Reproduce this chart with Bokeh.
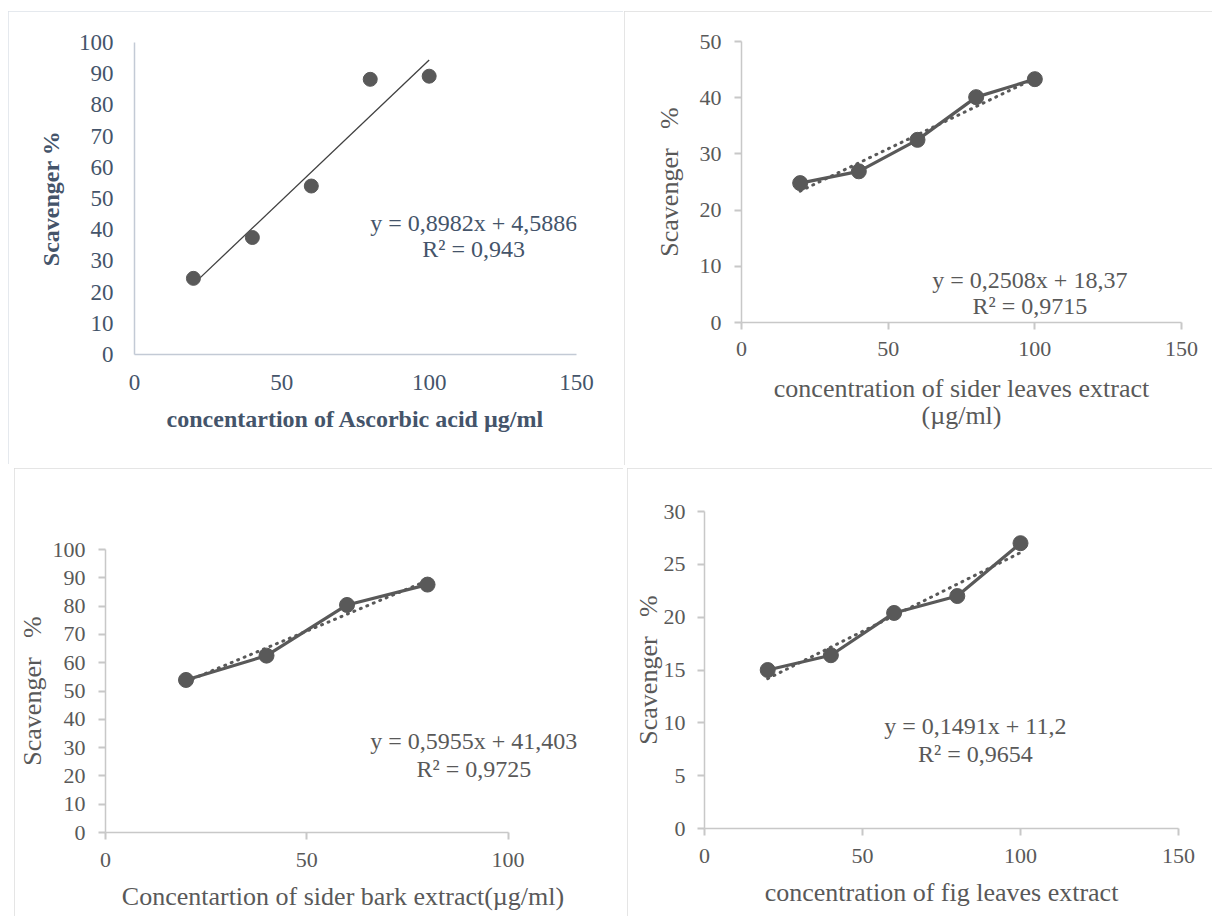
from bokeh.plotting import figure
from bokeh.layouts import column, row
from bokeh.models import Range1d, FixedTicker, Label
from bokeh.embed import file_html
from bokeh.resources import INLINE

# ---------------- data ----------------
conc = [20, 40, 60, 80, 100]
ascorbic = [24.4, 37.5, 54.0, 88.2, 89.2]
sider_leaves = [24.8, 26.9, 32.5, 40.1, 43.3]
bark_conc = [20, 40, 60, 80]
sider_bark = [53.9, 62.5, 80.4, 87.6]
fig_leaves = [15.0, 16.4, 20.4, 22.0, 27.0]

# trendline coefficients (slope, intercept) as printed on the chart
fit_ascorbic = (0.8982, 4.5886)
fit_sider_leaves = (0.2508, 18.37)
fit_sider_bark = (0.5955, 41.403)
fit_fig_leaves = (0.1491, 11.2)

eq_ascorbic = ["y = 0,8982x + 4,5886", "R² = 0,943"]
eq_sider_leaves = ["y = 0,2508x + 18,37", "R² = 0,9715"]
eq_sider_bark = ["y = 0,5955x + 41,403", "R² = 0,9725"]
eq_fig_leaves = ["y = 0,1491x + 11,2", "R² = 0,9654"]

xticks_150 = [0, 50, 100, 150]
xticks_100 = [0, 50, 100]
yticks_100 = [0, 10, 20, 30, 40, 50, 60, 70, 80, 90, 100]
yticks_50 = [0, 10, 20, 30, 40, 50]
yticks_30 = [0, 5, 10, 15, 20, 25, 30]

FONT = "Liberation Serif"
SLATE = "#44546A"
GREY_TXT = "#595959"
MARK = "#595959"


def make_fig(w, h, l, r, t, b, xr, yr, xt, yt, text_col, axis_col,
             tick_out, xstand, ystand, xlab_stand, ylab_stand,
             xlabel, ylabel, lab_size, lab_style, border_col, tick_size="22px",
             xbounds=None, lab_line_height=1.2):
    p = figure(width=w, height=h, min_border_left=l, min_border_right=r,
               min_border_top=t, min_border_bottom=b,
               x_range=Range1d(*xr), y_range=Range1d(*yr),
               output_backend="svg", toolbar_location=None, tools="")
    p.outline_line_color = None
    p.xgrid.visible = False
    p.ygrid.visible = False
    p.background_fill_color = "white"
    p.border_fill_color = "white"
    p.styles = {"outline": "2px solid " + border_col, "outline-offset": "-2px"}
    axes = list(p.below) + list(p.left)
    for ax in axes:
        ax.axis_line_color = axis_col
        ax.axis_line_width = 1.5
        ax.major_tick_line_color = axis_col if tick_out else None
        ax.major_tick_line_width = 2
        ax.major_tick_out = tick_out
        ax.major_tick_in = 0
        ax.minor_tick_line_color = None
        ax.major_label_text_font = FONT
        ax.major_label_text_font_size = tick_size
        ax.major_label_text_color = text_col
        ax.axis_label_text_font = FONT
        ax.axis_label_text_font_size = lab_size
        ax.axis_label_text_font_style = lab_style
        ax.axis_label_text_color = text_col
        ax.axis_label_text_line_height = lab_line_height
    xa = p.below[0]
    ya = p.left[0]
    xa.ticker = FixedTicker(ticks=xt)
    ya.ticker = FixedTicker(ticks=yt)
    if xbounds is not None:
        xa.bounds = xbounds
    xa.major_label_standoff = xstand
    ya.major_label_standoff = ystand
    xa.axis_label_standoff = xlab_stand
    ya.axis_label_standoff = ylab_stand
    xa.axis_label = xlabel
    ya.axis_label = ylabel
    return p


def add_eq(p, x, ys, lines, col):
    for yy, txt in zip(ys, lines):
        p.add_layout(Label(x=x, y=yy, text=txt, text_align="center",
                           text_baseline="middle", text_font=FONT,
                           text_font_size="24px", text_color=col))


def trend(xs, coef):
    xe = [xs[0], xs[-1]]
    return xe, [coef[0] * v + coef[1] for v in xe]


NB = "\u00a0"

# ---- panel 1: ascorbic acid ----
p1 = make_fig(615, 453, 126, 47, 31, 110, (0, 150), (0, 100), xticks_150, yticks_100,
              SLATE, "#C3CAD5", 0, 20, 21, 13, 12,
              "concentartion of Ascorbic acid µg/ml", "Scavenger %", "24px", "bold", "#DDE2E8",
              tick_size="23px")
tx, ty = trend(conc, fit_ascorbic)
p1.line(tx, ty, line_color="#404040", line_width=1.3)
p1.scatter(conc, ascorbic, size=14, fill_color=MARK, line_color=MARK)
add_eq(p1, 115.1, [42.0, 33.7], eq_ascorbic, SLATE)

# ---- panel 2: sider leaves ----
p2 = make_fig(588, 454, 117, 31, 30, 143, (0, 150), (0, 50), xticks_150, yticks_50,
              GREY_TXT, "#C8C8C8", 7, 12, 13, 15, 13,
              "concentration of sider leaves extract\n(µg/ml)", "Scavenger" + NB * 3 + "%",
              "26px", "normal", "#DCDCDC", lab_line_height=0.95)
tx, ty = trend(conc, fit_sider_leaves)
p2.line(tx, ty, line_color=MARK, line_width=3, line_dash="1 6", line_cap="round")
p2.line(conc, sider_leaves, line_color=MARK, line_width=3.2)
p2.scatter(conc, sider_leaves, size=15, fill_color=MARK, line_color=MARK)
add_eq(p2, 98.3, [7.65, 2.85], eq_sider_leaves, GREY_TXT)

# ---- panel 3: sider bark ----
p3 = make_fig(609, 448, 89, 43, 81, 84, (0, 118), (0, 100), xticks_100, yticks_100,
              GREY_TXT, "#C8C8C8", 7, 13, 13, 12, 3,
              "Concentartion of sider bark extract(µg/ml)", "Scavenger" + NB * 3 + "%",
              "26px", "normal", "#DCDCDC", xbounds=(0, 100))
tx, ty = trend(bark_conc, fit_sider_bark)
p3.line(tx, ty, line_color=MARK, line_width=3, line_dash="1 6", line_cap="round")
p3.line(bark_conc, sider_bark, line_color=MARK, line_width=3.2)
p3.scatter(bark_conc, sider_bark, size=15, fill_color=MARK, line_color=MARK)
add_eq(p3, 91.5, [32.3, 22.6], eq_sider_bark, GREY_TXT)

# ---- panel 4: fig leaves ----
p4 = make_fig(585, 448, 77, 34, 43, 88, (0, 150), (0, 30), xticks_150, yticks_30,
              GREY_TXT, "#C8C8C8", 7, 13, 12, 12, -2,
              "concentration of fig leaves extract", "Scavenger" + NB * 3 + "%",
              "26px", "normal", "#DCDCDC")
tx, ty = trend(conc, fit_fig_leaves)
p4.line(tx, ty, line_color=MARK, line_width=3, line_dash="1 6", line_cap="round")
p4.line(conc, fig_leaves, line_color=MARK, line_width=3.2)
p4.scatter(conc, fig_leaves, size=15, fill_color=MARK, line_color=MARK)
add_eq(p4, 85.7, [9.72, 7.09], eq_fig_leaves, GREY_TXT)

c1 = column(p1, margin=(11, 0, 0, 8))
c2 = column(p2, margin=(11, 0, 0, 1))
c3 = column(p3, margin=(3, 0, 0, 14))
c4 = column(p4, margin=(3, 0, 0, 4))
layout = column(row(c1, c2), row(c3, c4))
open("out.html", "w").write(file_html(layout, INLINE))
